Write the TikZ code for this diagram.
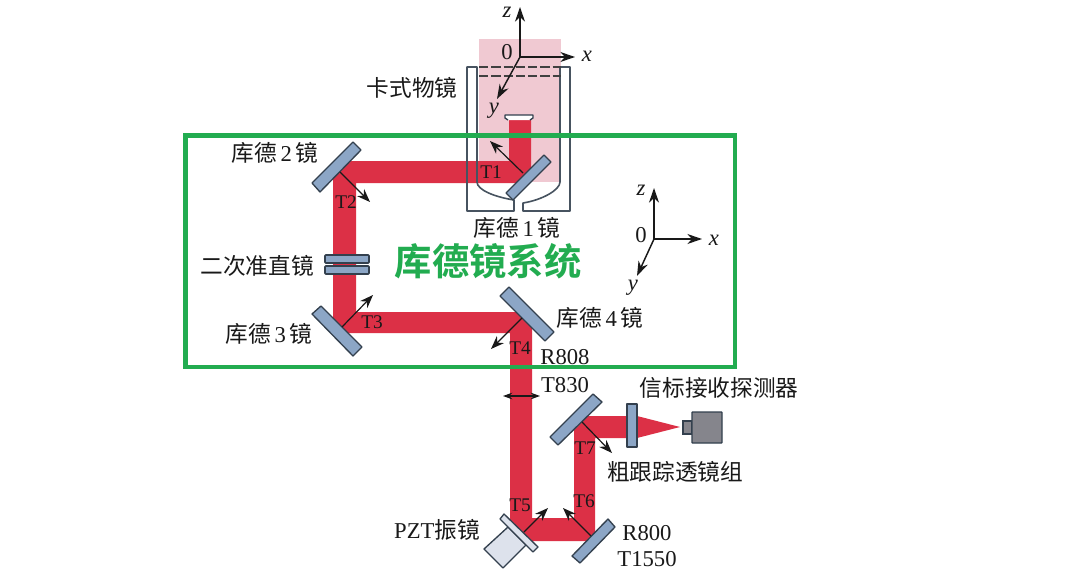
\documentclass[tikz,border=0pt]{standalone}
\usepackage{fontspec}
\setmainfont{Liberation Serif}
\newfontfamily\cjk{Noto Sans CJK SC}
\newfontfamily\cjkb{Noto Sans CJK SC Bold}
\usetikzlibrary{arrows.meta}
\definecolor{beam}{HTML}{DC3046}
\definecolor{rose}{HTML}{F0C9D2}
\definecolor{mirr}{HTML}{8CA6C6}
\definecolor{edgec}{HTML}{33404E}
\definecolor{pale}{HTML}{DDE2EC}
\definecolor{darkbody}{HTML}{85858C}
\definecolor{boxg}{HTML}{22AC50}
\newcommand{\zw}[1]{{\cjk #1}}
\tikzset{
  optic/.style={fill=mirr,draw=edgec,line width=1pt,line join=round},
  body/.style={fill=pale,draw=edgec,line width=1pt,line join=round},
  tube/.style={draw=edgec!90,line width=1.2pt,line join=round},
  arr/.style={-{Stealth[length=10pt,width=7.5pt]},line width=0.9pt,black!90},
  axis/.style={-{Stealth[length=11pt,width=7.5pt]},line width=1.1pt,black!90},
  lab/.style={font=\fontsize{17}{19}\selectfont,inner sep=0pt,text=black!90},
  tlab/.style={font=\fontsize{14.5}{16}\selectfont,inner sep=0pt,text=black!90},
  ax/.style={font=\fontsize{17}{19}\selectfont\itshape,inner sep=0pt,text=black!90},
  num/.style={font=\fontsize{17}{19}\selectfont,inner sep=0pt,text=black!90},
}
\begin{document}
\begin{tikzpicture}[x=0.75pt,y=-0.75pt]
\useasboundingbox (0,0) rectangle (1084,578);
\fill[white] (0,0) rectangle (1084,578);
% objective light cone
\fill[rose] (479,39) rectangle (561,182);
% beam
\fill[beam] (509,118) -- (509,161) -- (350,161) -- (333,178) -- (333,318) -- (348,333)
  -- (510,333) -- (510,520) -- (531,541) -- (586,541) -- (595,532) -- (595,438)
  -- (628,438) -- (628,416) -- (588,416) -- (574,430) -- (574,518) -- (532,518)
  -- (532,328) -- (516,312) -- (356,312) -- (356,183) -- (516,183) -- (531,168)
  -- (531,118) -- cycle;
\fill[beam] (637,416) -- (637,438) -- (680,427) -- cycle;
% Cassegrain tube
\draw[tube] (477,67) -- (467,67) -- (467,211) -- (514,211) -- (514,200)
  .. controls (495,197) and (477,190) .. (477,182) -- cycle;
\draw[tube] (560,67) -- (570,67) -- (570,211) -- (523,211) -- (523,203)
  .. controls (542,200) and (560,190) .. (560,182) -- cycle;
\draw[dashed,dash pattern=on 7pt off 2.2pt,line width=1pt,black!75] (479,67) -- (561,67);
\draw[dashed,dash pattern=on 7pt off 2.2pt,line width=1pt,black!75] (479,76) -- (561,76);
\draw[fill=white,draw=edgec,line width=1pt,line join=round] (508,120) -- (505,118) -- (505,115) -- (533,115) -- (533,118) -- (530,120);
% mirrors
\draw[optic] (544,155) -- (551,162) -- (513,200) -- (506,193) -- cycle;
\draw[optic] (353,142) -- (361,150) -- (320,192) -- (312,183) -- cycle;
\draw[optic] (321,306) -- (312,314) -- (353,356) -- (362,347) -- cycle;
\draw[optic] (509,287) -- (500,296) -- (545,341) -- (554,332) -- cycle;
\draw[optic] (593,394) -- (602,402) -- (558,445) -- (550,437) -- cycle;
\draw[optic] (608,519) -- (615,527) -- (580,563) -- (572,556) -- cycle;
% collimating lens
\draw[optic,rounded corners=0.5pt,line width=1.2pt] (325,255) rectangle (369,263);
\draw[optic,rounded corners=0.5pt,line width=1.2pt] (325,266) rectangle (369,274);
% tracking lens and beacon detector
\draw[optic] (627,404) rectangle (637,447);
\draw[fill=darkbody,draw=edgec,line width=1pt] (683,421) rectangle (692,434);
\draw[fill=darkbody,draw=edgec,line width=1pt,rounded corners=0.5pt] (692,412) rectangle (722,443);
% PZT
\draw[body] (508,527) -- (484,549) -- (503,568) -- (526,545) -- cycle;
\draw[body] (504,514) -- (500,519) -- (533,552) -- (538,547) -- cycle;
% named ends of the arrows
\coordinate (n1a) at (523,173); \coordinate (n1b) at (490,141);
\coordinate (n2a) at (340,172); \coordinate (n2b) at (370,202);
\coordinate (n3a) at (342,327); \coordinate (n3b) at (373,295);
\coordinate (n4a) at (522,318); \coordinate (n4b) at (491,349);
\coordinate (n5a) at (524,532); \coordinate (n5b) at (548,508);
\coordinate (n6a) at (591,536); \coordinate (n6b) at (563,508);
\coordinate (n7a) at (582,422); \coordinate (n7b) at (612,453);
\coordinate (wl) at (503,396); \coordinate (wr) at (540,396);
\foreach \s/\e in {n1a/n1b,n2a/n2b,n3a/n3b,n4a/n4b,n5a/n5b,n6a/n6b,n7a/n7b}
  \draw[arr] (\s) -- (\e);
\draw[{Stealth[length=7pt,width=5pt]}-{Stealth[length=7pt,width=5pt]},line width=0.9pt,black!90] (wl) -- (wr);
% axes
\coordinate (o1) at (520,57); \coordinate (z1) at (520,7); \coordinate (x1) at (575,57); \coordinate (y1) at (497,99);
\draw[axis] (o1) -- (z1); \draw[axis] (o1) -- (x1); \draw[axis] (o1) -- (y1);
\coordinate (o2) at (654,239); \coordinate (z2) at (654,188); \coordinate (x2) at (702,239); \coordinate (y2) at (637,276);
\draw[axis] (o2) -- (z2); \draw[axis] (o2) -- (x2); \draw[axis] (o2) -- (y2);
\node[ax] (lz1) at (507,12) {z};
\node[ax] (lx1) at (587,56) {x};
\node[ax] (ly1) at (494,111) {y};
\node[num] (l01) at (507,52) {0};
\node[ax] (lz2) at (641,190) {z};
\node[ax] (lx2) at (714,240) {x};
\node[ax] (ly2) at (633,288) {y};
\node[num] (l02) at (641,235) {0};
% labels
\node[lab] (kashi) at (412,88) {\zw{卡式物镜}};
\node[lab] (k1) at (517,228) {\zw{库德}\,1\,\zw{镜}};
\node[lab] (k2) at (275,153) {\zw{库德}\,2\,\zw{镜}};
\node[lab] (k3) at (269,334) {\zw{库德}\,3\,\zw{镜}};
\node[lab] (k4) at (600,318) {\zw{库德}\,4\,\zw{镜}};
\node[lab] (erci) at (257,266) {\zw{二次准直镜}};
\node[lab] (r808) at (565,357) {R808};
\node[lab] (t830) at (565,385) {T830};
\node[lab] (xb) at (719,388) {\zw{信标接收探测器}};
\node[lab] (cu) at (675,472) {\zw{粗跟踪透镜组}};
\node[lab] (pzt) at (437,530) {PZT\zw{振镜}};
\node[lab] (r800) at (647,533) {R800};
\node[lab] (t1550) at (647,559) {T1550};
\node[tlab] (t1) at (491,172) {T1};
\node[tlab] (t2) at (346,202) {T2};
\node[tlab] (t3) at (372,322) {T3};
\node[tlab] (t4) at (520,348) {T4};
\node[tlab] (t5) at (520,505) {T5};
\node[tlab] (t6) at (584,501) {T6};
\node[tlab] (t7) at (585,448) {T7};
% green frame and title
\draw[boxg,line width=3.5pt] (185.5,135.5) rectangle (735,367);
\node[inner sep=0pt,text=boxg,font=\fontsize{28}{31}\selectfont\cjkb] (title) at (488,261) {库德镜系统};
\end{tikzpicture}
\end{document}
